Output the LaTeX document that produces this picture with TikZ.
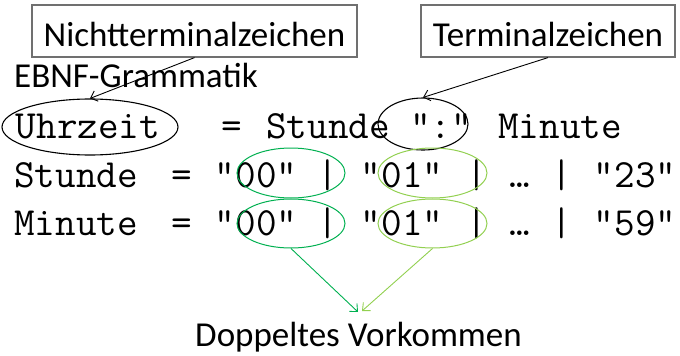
\documentclass[tikz,border=0pt]{standalone}
\usepackage{fontspec}
\setmainfont{Carlito}
\usetikzlibrary{arrows.meta,shapes.geometric}
\definecolor{dgreen}{HTML}{00B050}
\definecolor{lgreen}{HTML}{92D050}
\definecolor{boxgray}{HTML}{707070}
\begin{document}
\begin{tikzpicture}[x=1pt,y=-1pt,
  lbl/.style={draw=boxgray, line width=1.2pt, inner sep=0pt, minimum height=52pt,
    text height=30pt, text depth=0pt, font=\fontsize{35}{35}\selectfont},
  plain/.style={inner sep=0pt, anchor=base, font=\fontsize{35}{35}\selectfont},
  code/.style={inner sep=0pt, anchor=base, font=\ttfamily\fontsize{40}{40}\selectfont},
  ring/.style={ellipse, draw, line width=1pt, inner sep=0pt},
  pointer/.style={line width=0.9pt, -{Straight Barb[length=6pt,width=11pt]}},
]
\useasboundingbox (0,0) rectangle (680,356);
% label boxes
\node[lbl, minimum width=325pt] (nicht) at (194.5,31) {Nichtterminalzeichen};
\node[lbl, minimum width=254pt] (term) at (548,31) {Terminalzeichen};
\node[plain, anchor=base west] (ebnf) at (14,87) {EBNF-Grammatik};
\node[plain] (dopp) at (358.5,346.5) {Doppeltes Vorkommen};

% line 1
\node[code] (uhr) at (88,138) {Uhrzeit};
\node[code] (eq1) at (232,138) {=};
\node[code] (stu1) at (328,138) {Stunde};
\node[code] (col) at (441,138) {":"};
\node[code] (min1) at (560,138) {Minute};
% line 2
\node[code] (stu2) at (76,187) {Stunde};
\node[code] (eq2) at (182,187) {=};
\node[code] (s00) at (256,187) {"00"};
\node[code] (sb1) at (328,187) {|};
\node[code] (s01) at (402,187) {"01"};
\node[code] (sb2) at (477,187) {|};
\node[code] (sdots) at (520,187) {…};
\node[code] (sb3) at (562,187) {|};
\node[code] (s23) at (635,187) {"23"};
% line 3
\node[code] (min2) at (76,235) {Minute};
\node[code] (eq3) at (182,235) {=};
\node[code] (m00) at (256,235) {"00"};
\node[code] (mb1) at (328,235) {|};
\node[code] (m01) at (402,235) {"01"};
\node[code] (mb2) at (477,235) {|};
\node[code] (mdots) at (520,235) {…};
\node[code] (mb3) at (562,235) {|};
\node[code] (m59) at (635,235) {"59"};

% ellipses
\node[ring, line width=1.1pt, minimum width=176pt, minimum height=56pt] (eU) at (90,127) {};
\node[ring, line width=1.1pt, minimum width=90pt, minimum height=52pt] (eC) at (423,124) {};
\node[ring, draw=dgreen, minimum width=108pt, minimum height=50pt] (eS0) at (291,173) {};
\node[ring, draw=dgreen, minimum width=108pt, minimum height=49pt] (eM0) at (291,223.5) {};
\node[ring, draw=lgreen, minimum width=109pt, minimum height=50pt] (eS1) at (432.5,173) {};
\node[ring, draw=lgreen, minimum width=109pt, minimum height=49pt] (eM1) at (432.5,223.5) {};

% connectors
\coordinate (tipD) at (358,312);
\coordinate (tipL) at (362,311);
\draw[pointer] (nicht.south) -- (eU.north);
\draw[pointer] (term.south) -- (eC.north);
\draw[pointer, draw=dgreen] (eM0.south) -- (tipD);
\draw[pointer, draw=lgreen] (eM1.south) -- (tipL);
\end{tikzpicture}
\end{document}
